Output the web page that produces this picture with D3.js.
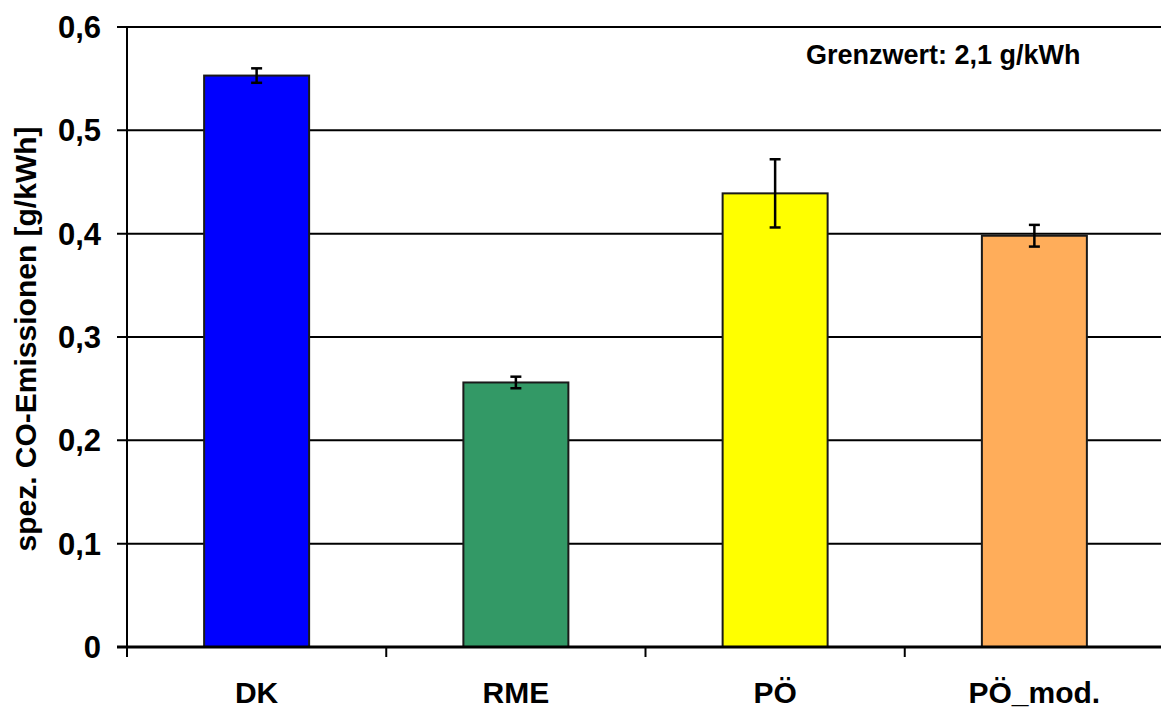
<!DOCTYPE html>
<html>
<head>
<meta charset="utf-8">
<script src="https://cdn.jsdelivr.net/npm/d3@7"></script>
<style>
  html, body { margin: 0; padding: 0; background: #fff; }
  svg { display: block; font-family: "Liberation Sans", Arial, sans-serif; font-weight: bold; }
</style>
</head>
<body>
<svg id="chart" width="1161" height="713"></svg>
<script>
// Fuel types and their specific CO emissions (g/kWh) with error ranges
const categories = ["DK", "RME", "PÖ", "PÖ_mod."];
const values = [0.553, 0.256, 0.439, 0.398];
const errors = [0.007, 0.0056, 0.033, 0.0105];
const colors = ["#0000FF", "#339966", "#FFFF00", "#FFAD5A"];
const yTicks = [0, 0.1, 0.2, 0.3, 0.4, 0.5, 0.6];
const yTitle = "spez. CO-Emissionen [g/kWh]";
const note = "Grenzwert: 2,1 g/kWh";

const svg = d3.select("#chart");
const plotLeft = 127, plotRight = 1164, plotTop = 27, plotBottom = 647;

const x = d3.scaleBand().domain(categories).range([plotLeft, plotRight]).padding(0);
const y = d3.scaleLinear().domain([0, 0.6]).range([plotBottom, plotTop]);
const fmt = v => v === 0 ? "0" : d3.format(".1f")(v).replace(".", ",");

// Horizontal grid lines with outward tick marks
svg.append("g").selectAll("line").data(yTicks.filter(d => d > 0)).join("line")
  .attr("x1", plotLeft - 10).attr("x2", plotRight)
  .attr("y1", d => y(d)).attr("y2", d => y(d))
  .attr("stroke", "#000").attr("stroke-width", 2);

// Y tick labels
svg.append("g").selectAll("text").data(yTicks).join("text")
  .attr("x", 101).attr("y", d => y(d) + 11)
  .attr("text-anchor", "end").attr("font-size", 31)
  .text(fmt);

// Y axis line
svg.append("line")
  .attr("x1", plotLeft).attr("x2", plotLeft).attr("y1", y(0.6)).attr("y2", plotBottom + 10)
  .attr("stroke", "#000").attr("stroke-width", 2);

// Bars
const bw = x.bandwidth() * 0.405;
svg.append("g").selectAll("rect").data(categories).join("rect")
  .attr("x", d => x(d) + (x.bandwidth() - bw) / 2)
  .attr("width", bw)
  .attr("y", (d, i) => y(values[i]))
  .attr("height", (d, i) => y(0) - y(values[i]))
  .attr("fill", (d, i) => colors[i])
  .attr("stroke", "#1a1a1a").attr("stroke-width", 2);

// Error bars
const eg = svg.append("g").attr("stroke", "#000").attr("stroke-width", 2.5);
categories.forEach((c, i) => {
  const cx = x(c) + x.bandwidth() / 2;
  const hi = y(values[i] + errors[i]), lo = y(values[i] - errors[i]);
  eg.append("line").attr("x1", cx).attr("x2", cx).attr("y1", hi).attr("y2", lo);
  eg.append("line").attr("x1", cx - 5.5).attr("x2", cx + 5.5).attr("y1", hi).attr("y2", hi);
  eg.append("line").attr("x1", cx - 5.5).attr("x2", cx + 5.5).attr("y1", lo).attr("y2", lo);
});

// X axis baseline and category separators
svg.append("line")
  .attr("x1", plotLeft - 10).attr("x2", plotRight).attr("y1", plotBottom).attr("y2", plotBottom)
  .attr("stroke", "#000").attr("stroke-width", 3);
svg.append("g").selectAll("line").data(categories.slice(1)).join("line")
  .attr("x1", d => x(d)).attr("x2", d => x(d))
  .attr("y1", plotBottom).attr("y2", plotBottom + 10)
  .attr("stroke", "#000").attr("stroke-width", 2);

// Category labels
svg.append("g").selectAll("text").data(categories).join("text")
  .attr("x", d => x(d) + x.bandwidth() / 2).attr("y", 703)
  .attr("text-anchor", "middle").attr("font-size", 30)
  .text(d => d);

// Y axis title
svg.append("text")
  .attr("transform", "translate(36,339) rotate(-90)")
  .attr("text-anchor", "middle").attr("font-size", 30)
  .text(yTitle);

// Annotation
svg.append("text")
  .attr("x", 806).attr("y", 64).attr("font-size", 27)
  .text(note);
</script>
</body>
</html>
